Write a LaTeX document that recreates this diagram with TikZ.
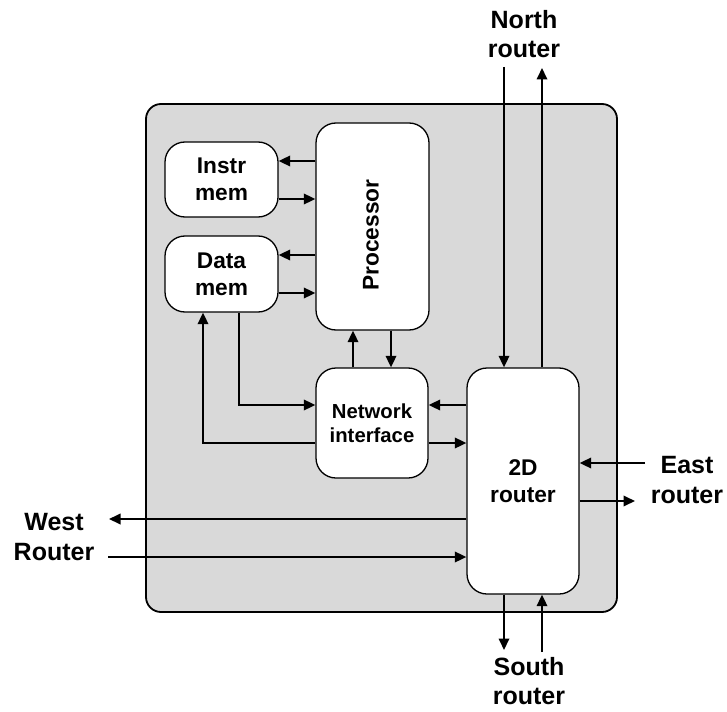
\documentclass[tikz,border=0pt]{standalone}
\usepackage{fontspec}
\setmainfont{Liberation Sans}
\usetikzlibrary{arrows.meta}
\definecolor{panel}{RGB}{217,217,217}
\begin{document}
\begin{tikzpicture}[x=1pt,y=-1pt,
  box/.style={draw=black, line width=1.3pt, fill=white, rounded corners=20pt, inner sep=0pt},
  arr/.style={line width=1.8pt, -{Triangle[length=11.5pt,width=10.5pt]}},
  outer/.style={font=\bfseries\fontsize{25}{29.5}\selectfont, align=center, inner sep=0pt},
  inner/.style={font=\bfseries\fontsize{22.7}{27}\selectfont, align=center},
  small/.style={font=\bfseries\fontsize{20.3}{24.2}\selectfont, align=center}
]
\useasboundingbox (0,0) rectangle (727,711);
% panel
\node[draw=black, line width=1.8pt, fill=panel, rounded corners=15pt, minimum width=471pt, minimum height=508pt, inner sep=0pt] (panel) at (381.5,358) {};
% boxes
\node[box, inner, minimum width=113pt, minimum height=75pt] (instr) at (221.5,179.5) {Instr\\mem};
\node[box, inner, minimum width=113pt, minimum height=76pt] (data) at (221.5,274) {Data\\mem};
\node[box, minimum width=113pt, minimum height=207pt] (proc) at (372.5,226.5) {};
\node[inner, rotate=90, inner sep=0pt] (proctext) at (371,235) {Processor};
\node[box, small, minimum width=112pt, minimum height=110pt] (ni) at (372,423) {Network\\interface};
\node[box, inner, minimum width=112pt, minimum height=226pt] (router) at (523,481) {2D\\router};
% labels
\node[outer] (north) at (524,34) {North\\router};
\node[outer] (east) at (687,480) {East\\router};
\node[outer] (south) at (529,681) {South\\router};
\node[outer] (west) at (54,537) {West\\Router};
% free ends
\coordinate (nin) at (504,67);
\coordinate (nout) at (542,68);
\coordinate (ein) at (645,463);
\coordinate (eout) at (635,501);
\coordinate (sout) at (504,650);
\coordinate (sin) at (542,652);
\coordinate (wout) at (109,519);
\coordinate (win) at (108,557);
% processor <-> memories
\draw[arr] (proc.west |- 0,161) -- (instr.east |- 0,161);
\draw[arr] (instr.east |- 0,199) -- (proc.west |- 0,199);
\draw[arr] (proc.west |- 0,255) -- (data.east |- 0,255);
\draw[arr] (data.east |- 0,293) -- (proc.west |- 0,293);
% processor <-> NI
\draw[arr] (ni.north -| 353,0) -- (proc.south -| 353,0);
\draw[arr] (proc.south -| 391,0) -- (ni.north -| 391,0);
% data mem <-> NI
\draw[arr] (data.south -| 239,0) |- (ni.west |- 0,405);
\draw[arr] (ni.west |- 0,443) -| (data.south -| 203,0);
% router <-> NI
\draw[arr] (router.west |- 0,405) -- (ni.east |- 0,405);
\draw[arr] (ni.east |- 0,443) -- (router.west |- 0,443);
% north
\draw[arr] (nin) -- (router.north -| nin);
\draw[arr] (router.north -| nout) -- (nout);
% east
\draw[arr] (ein) -- (router.east |- ein);
\draw[arr] (router.east |- eout) -- (eout);
% south
\draw[arr] (router.south -| sout) -- (sout);
\draw[arr] (sin) -- (router.south -| sin);
% west
\draw[arr] (router.west |- wout) -- (wout);
\draw[arr] (win) -- (router.west |- win);
\end{tikzpicture}
\end{document}
